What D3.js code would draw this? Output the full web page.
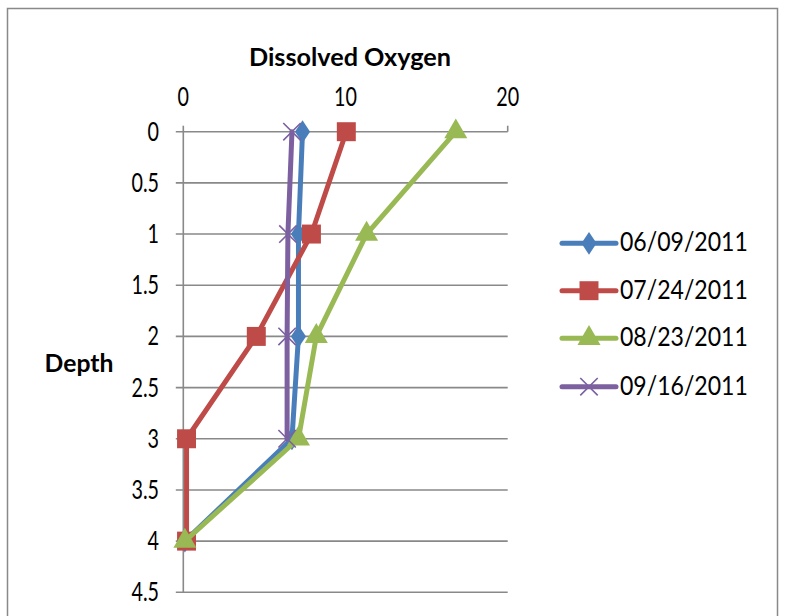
<!DOCTYPE html>
<html>
<head>
<meta charset="utf-8">
<script src="https://cdn.jsdelivr.net/npm/d3@7"></script>
<style>
  body { margin: 0; background: #fff; }
  svg { display: block; }
  text { font-family: Lato, "Open Sans", sans-serif; fill: #000; }
</style>
</head>
<body>
<svg id="chart" width="786" height="616"></svg>
<script>
// depth levels (m) and dissolved oxygen readings per sampling date
const depths = [0, 1, 2, 3, 4];
const seriesNames = ["06/09/2011", "07/24/2011", "08/23/2011", "09/16/2011"];
const june = [7.35, 7.1, 7.1, 6.7, 0.1];
const july = [10.05, 7.9, 4.5, 0.2, 0.2];
const august = [16.8, 11.3, 8.2, 7.1, 0.1];
const september = [6.7, 6.45, 6.4, 6.4, null];
const xTicks = [0, 10, 20];
const yTicks = [0, 0.5, 1, 1.5, 2, 2.5, 3, 3.5, 4, 4.5];

const colours = ["#4A7EBB", "#BE4B48", "#98B954", "#7D60A0"];
const shapes = ["diamond", "square", "triangle", "cross"];

const svg = d3.select("#chart");
const grey = "#898989";

const x = d3.scaleLinear().domain([0, 20]).range([183.3, 507.7]);
const y = d3.scaleLinear().domain([0, 4.5]).range([131.7, 592.3]);

// outer frame
svg.append("rect")
    .attr("x", 7.5).attr("y", 8.5)
    .attr("width", 770).attr("height", 640)
    .attr("fill", "none")
    .attr("stroke", grey)
    .attr("stroke-width", 1.5);

// the picture's font is narrower than Lato, so labels get squeezed sideways
const label = (sel, tx, ty, txt, anchor, size, squish, weight) => sel.append("text")
    .attr("transform", `translate(${tx},${ty}) scale(${squish},1)`)
    .attr("text-anchor", anchor)
    .attr("font-size", size)
    .attr("font-weight", weight || 400)
    .text(txt);

// horizontal gridlines, which also serve as the left ticks
svg.append("g").selectAll("line")
    .data(yTicks)
    .join("line")
    .attr("x1", x(0) - 7.5).attr("x2", x(20))
    .attr("y1", d => y(d)).attr("y2", d => y(d))
    .attr("stroke", grey)
    .attr("stroke-width", 1.6);

// vertical axis line
svg.append("line")
    .attr("x1", x(0)).attr("x2", x(0))
    .attr("y1", y(0)).attr("y2", y(4.5))
    .attr("stroke", grey)
    .attr("stroke-width", 1.6);

// top axis ticks
svg.append("g").selectAll("line")
    .data(xTicks)
    .join("line")
    .attr("x1", d => x(d)).attr("x2", d => x(d))
    .attr("y1", y(0) - 6).attr("y2", y(0))
    .attr("stroke", grey)
    .attr("stroke-width", 1.6);

xTicks.forEach(t => label(svg, x(t), 106, t, "middle", 26, 0.76));
yTicks.forEach(t => label(svg, 159, y(t) + 9, t, "end", 26, 0.76));

label(svg, 350, 66, "Dissolved Oxygen", "middle", 24.5, 1.03, 700);
label(svg, 79, 372, "Depth", "middle", 24, 1.03, 700);

const symbolFor = {
    diamond: d3.symbol().type(d3.symbolDiamond).size(150),
    square: d3.symbol().type(d3.symbolSquare).size(360),
    triangle: d3.symbol().type(d3.symbolTriangle).size(230),
    cross: d3.symbol().type(d3.symbolX).size(200)
};

const drawMarker = (g, i, cx, cy) => {
    const m = g.append("path")
        .attr("d", symbolFor[shapes[i]]())
        .attr("transform", shapes[i] === "diamond"
            ? `translate(${cx},${cy}) scale(1.15,1)`
            : `translate(${cx},${cy})`);
    if (shapes[i] === "cross") {
        m.attr("fill", "none").attr("stroke", colours[i]).attr("stroke-width", 1.6);
    } else {
        m.attr("fill", colours[i]).attr("stroke", "none");
    }
};

const allSeries = [june, july, august, september].map((vals, i) => ({
    name: seriesNames[i],
    points: depths.map((dp, k) => ({ depth: dp, value: vals[k] })).filter(p => p.value !== null)
}));

const line = d3.line().x(p => x(p.value)).y(p => y(p.depth));

allSeries.forEach((s, i) => {
    const g = svg.append("g");
    g.append("path")
        .attr("d", line(s.points))
        .attr("fill", "none")
        .attr("stroke", colours[i])
        .attr("stroke-width", 5)
        .attr("stroke-linejoin", "round")
        .attr("stroke-linecap", "round");
    s.points.forEach(p => drawMarker(g, i, x(p.value), y(p.depth)));
});

// legend
const legendRows = [243.3, 290.7, 338.3, 386.7];
allSeries.forEach((s, i) => {
    const g = svg.append("g");
    g.append("line")
        .attr("x1", 562).attr("x2", 616)
        .attr("y1", legendRows[i]).attr("y2", legendRows[i])
        .attr("stroke", colours[i])
        .attr("stroke-width", 5)
        .attr("stroke-linecap", "round");
    drawMarker(g, i, 589, legendRows[i]);
    label(g, 620, legendRows[i] + 8, s.name, "start", 26, 0.887);
});
</script>
</body>
</html>
